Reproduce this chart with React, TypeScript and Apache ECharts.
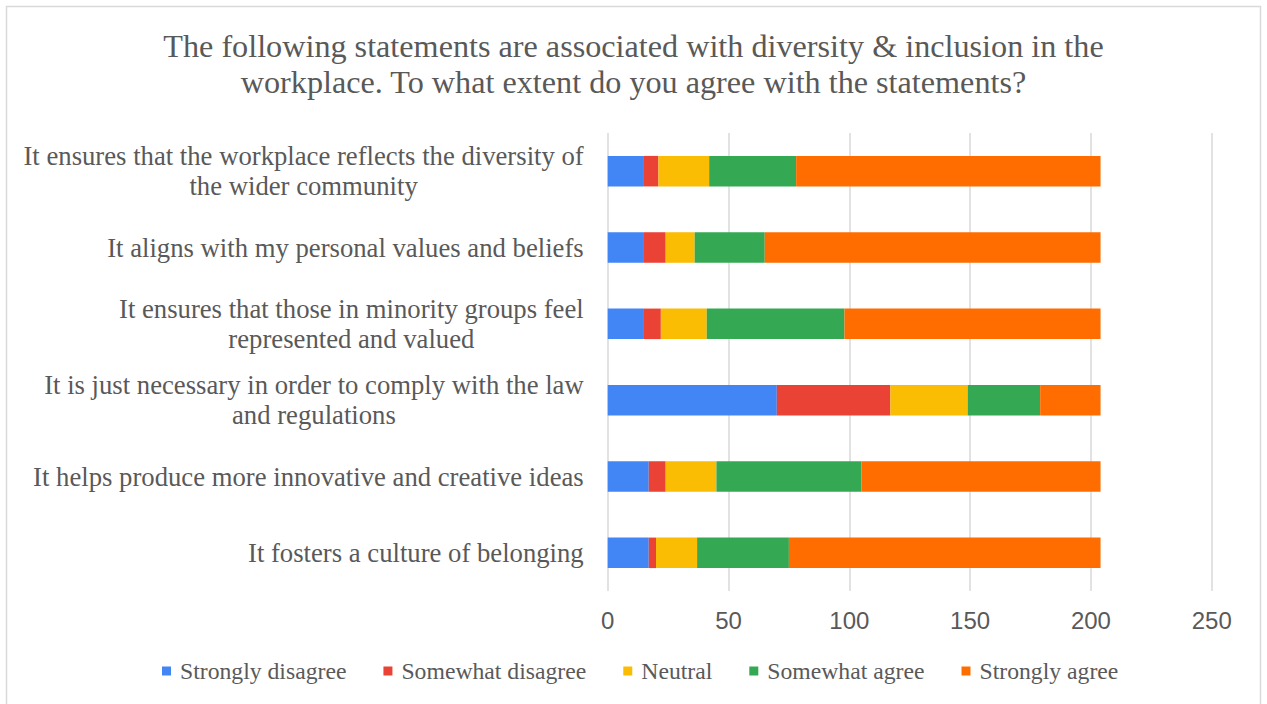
import React, { useEffect, useRef } from "react";
import * as echarts from "echarts";

const categories = [
  "It ensures that the workplace reflects the diversity of\nthe wider community",
  "It aligns with my personal values and beliefs",
  "It ensures that those in minority groups feel\nrepresented and valued",
  "It is just necessary in order to comply with the law\nand regulations",
  "It helps produce more innovative and creative ideas",
  "It fosters a culture of belonging",
];

const seriesNames = [
  "Strongly disagree",
  "Somewhat disagree",
  "Neutral",
  "Somewhat agree",
  "Strongly agree",
];

const stronglyDisagree = [15, 15, 15, 70, 17, 17];
const somewhatDisagree = [6, 9, 7, 47, 7, 3];
const neutral = [21, 12, 19, 32, 21, 17];
const somewhatAgree = [36, 29, 57, 30, 60, 38];
const stronglyAgree = [126, 139, 106, 25, 99, 129];

const xTicks = { min: 0, max: 250, interval: 50 };

const colors = ["#4285F4", "#EA4335", "#FBBC04", "#34A853", "#FF6D01"];

const titleText =
  "The following statements are associated with diversity & inclusion in the\nworkplace. To what extent do you agree with the statements?";

export default function App() {
  const ref = useRef<HTMLDivElement>(null);

  useEffect(() => {
    if (!ref.current) return;
    const chart = echarts.init(ref.current, null, { renderer: "svg" });
    const values = [stronglyDisagree, somewhatDisagree, neutral, somewhatAgree, stronglyAgree];
    const serif = "'Liberation Serif', 'Times New Roman', serif";
    const textColor = "#595959";
    chart.setOption({
      animation: false,
      color: colors,
      graphic: [
        {
          type: "rect",
          shape: { x: 6.5, y: 6.5, width: 1254, height: 720 },
          style: { fill: "none", stroke: "#d9d9d9", lineWidth: 1.5 },
          silent: true,
        },
      ],
      title: {
        text: titleText,
        left: "center",
        top: 23,
        textStyle: {
          fontFamily: serif,
          fontSize: 32.2,
          fontWeight: "normal",
          color: textColor,
          lineHeight: 36,
        },
      },
      legend: {
        left: 157,
        top: 654,
        icon: "rect",
        itemWidth: 9,
        itemHeight: 9,
        itemGap: 37,
        textStyle: {
          fontFamily: serif,
          fontSize: 23.7,
          color: textColor,
          padding: [0, 0, 0, 4],
        },
        data: seriesNames,
      },
      grid: {
        left: 607.7,
        right: 55.3,
        top: 133,
        bottom: 113,
        containLabel: false,
      },
      xAxis: {
        type: "value",
        min: xTicks.min,
        max: xTicks.max,
        interval: xTicks.interval,
        axisLine: { show: false },
        axisTick: { show: false },
        splitLine: { lineStyle: { color: "#d9d9d9", width: 1.5 } },
        axisLabel: {
          fontFamily: "'Liberation Sans', Arial, sans-serif",
          fontSize: 24,
          color: textColor,
          margin: 17,
        },
      },
      yAxis: {
        type: "category",
        inverse: true,
        data: categories,
        axisLine: { show: false },
        axisTick: { show: false },
        splitLine: { show: false },
        axisLabel: {
          margin: 24,
          align: "right",
          formatter: (v: string) =>
            v
              .split("\n")
              .map((l) => `{c|${l}}`)
              .join("\n"),
          rich: {
            c: {
              align: "center",
              fontFamily: serif,
              fontSize: 26.7,
              lineHeight: 30,
              color: textColor,
            },
          },
        },
      },
      series: seriesNames.map((name, i) => ({
        name,
        type: "bar",
        stack: "total",
        barWidth: "40%",
        data: values[i],
        itemStyle: { color: colors[i] },
      })),
    });
    return () => chart.dispose();
  }, []);

  return (
    <div
      ref={ref}
      style={{ position: "fixed", left: 0, top: 0, width: 1267, height: 704, background: "#fff" }}
    />
  );
}
